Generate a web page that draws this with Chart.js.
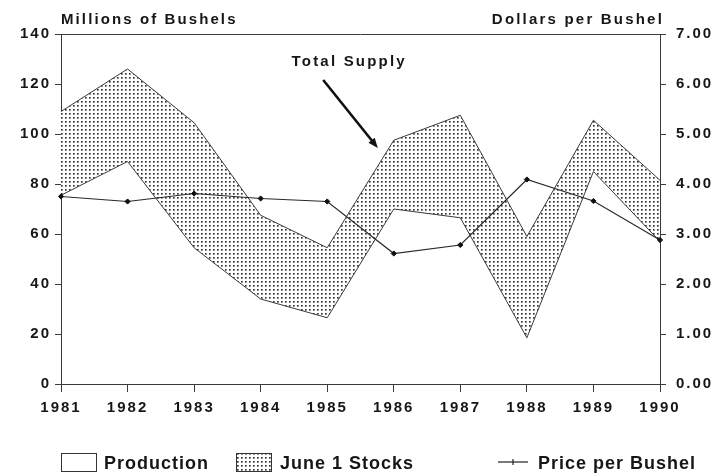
<!DOCTYPE html>
<html>
<head>
<meta charset="utf-8">
<script src="https://cdn.jsdelivr.net/npm/chart.js@4.4.1/dist/chart.umd.min.js"></script>
<style>
html,body{margin:0;padding:0;background:#fff;}
canvas{display:block;}
</style>
</head>
<body>
<canvas id="c" width="723" height="474"></canvas>
<script>
// ---- data ----
const years = ['1981','1982','1983','1984','1985','1986','1987','1988','1989','1990'];
const production = [75.5, 89, 54.5, 34, 26.5, 70, 66.5, 18.5, 85, 57];
const juneStocks = [33.5, 37, 50, 33.5, 28, 27.5, 41, 40.5, 20.5, 24.5];
const pricePerBushel = [3.75, 3.65, 3.81, 3.71, 3.65, 2.61, 2.78, 4.09, 3.66, 2.88];
const leftAxisTitle = 'Millions of Bushels';
const rightAxisTitle = 'Dollars per Bushel';
const annotationText = 'Total Supply';
const legendLabels = ['Production', 'June 1 Stocks', 'Price per Bushel'];

const FONT = '"Liberation Sans", Arial, sans-serif';
const INK = '#161616';
const LINE = '#3a3a3a';

function makeStipple() {
  const c = document.createElement('canvas');
  c.width = 4; c.height = 4;
  const g = c.getContext('2d');
  g.fillStyle = '#ffffff'; g.fillRect(0, 0, 4, 4);
  g.fillStyle = '#2e2e2e'; g.fillRect(1, 1, 1, 1);
  g.fillStyle = '#7a7a7a'; g.fillRect(2, 1, 1, 1); g.fillRect(1, 2, 1, 1);
  g.fillStyle = '#a0a0a0'; g.fillRect(2, 2, 1, 1);
  return g.createPattern(c, 'repeat');
}
const ctx0 = document.getElementById('c').getContext('2d');
const stipple = makeStipple();

const decor = {
  id: 'decor',
  beforeUpdate(chart) { chart.ctx.letterSpacing = '2px'; },
  beforeDraw(chart) {
    const c = chart.ctx;
    c.letterSpacing = '2px';
    c.save();
    c.fillStyle = '#fff';
    c.fillRect(0, 0, chart.width, chart.height);
    c.restore();
  },
  afterDraw(chart) {
    const c = chart.ctx;
    const a = chart.chartArea;
    const xs = chart.scales.x, ys = chart.scales.y;
    c.save();
    // top frame line
    c.strokeStyle = LINE; c.lineWidth = 1;
    c.beginPath(); c.moveTo(a.left, a.top + 0.5); c.lineTo(a.right, a.top + 0.5); c.stroke();

    // axis titles
    c.fillStyle = INK;
    c.font = 'bold 15px ' + FONT;
    c.letterSpacing = '2.1px';
    c.textBaseline = 'middle';
    c.textAlign = 'left';
    c.fillText(leftAxisTitle, a.left, 20);
    c.letterSpacing = '2.2px';
    c.textAlign = 'right';
    c.fillText(rightAxisTitle, a.right + 4, 20);

    // annotation
    c.letterSpacing = '2.2px';
    c.textAlign = 'center';
    c.fillText(annotationText, xs.getPixelForValue(4.33), ys.getPixelForValue(129.0));
    const x1 = xs.getPixelForValue(3.94), y1 = ys.getPixelForValue(121.6);
    const x2 = xs.getPixelForValue(4.76), y2 = ys.getPixelForValue(94.4);
    const ang = Math.atan2(y2 - y1, x2 - x1);
    c.strokeStyle = '#111'; c.lineWidth = 2.6;
    c.beginPath(); c.moveTo(x1, y1);
    c.lineTo(x2 - 7 * Math.cos(ang), y2 - 7 * Math.sin(ang)); c.stroke();
    c.fillStyle = '#111';
    c.beginPath();
    c.moveTo(x2, y2);
    c.lineTo(x2 - 10 * Math.cos(ang) + 4 * Math.sin(ang), y2 - 10 * Math.sin(ang) - 4 * Math.cos(ang));
    c.lineTo(x2 - 10 * Math.cos(ang) - 4 * Math.sin(ang), y2 - 10 * Math.sin(ang) + 4 * Math.cos(ang));
    c.closePath(); c.fill();

    // legend
    const ly = 463;
    c.lineWidth = 1; c.strokeStyle = '#333';
    c.fillStyle = '#fff';
    c.fillRect(61.5, 453.5, 35, 18); c.strokeRect(61.5, 453.5, 35, 18);
    c.fillStyle = stipple;
    c.fillRect(236.5, 453.5, 35, 18); c.strokeRect(236.5, 453.5, 35, 18);
    c.strokeStyle = '#222'; c.lineWidth = 1.2;
    c.beginPath(); c.moveTo(498, ly - 1); c.lineTo(528, ly - 1); c.stroke();
    c.beginPath(); c.moveTo(513, ly - 4); c.lineTo(513, ly + 2); c.stroke();
    c.fillStyle = INK;
    c.font = 'bold 18px ' + FONT;
    c.letterSpacing = '1px';
    c.textAlign = 'left'; c.textBaseline = 'middle';
    c.fillText(legendLabels[0], 104, ly + 1);
    c.fillText(legendLabels[1], 280, ly + 1);
    c.fillText(legendLabels[2], 538, ly + 1);
    c.restore();
  }
};

const tickFont = { family: FONT, size: 15, weight: 'bold' };

new Chart(ctx0, {
  type: 'line',
  data: {
    labels: years,
    datasets: [
      {
        label: legendLabels[0], data: production, yAxisID: 'y', stack: 'supply',
        borderColor: LINE, borderWidth: 1, pointRadius: 0, fill: false, tension: 0, order: 1
      },
      {
        label: legendLabels[1], data: juneStocks, yAxisID: 'y', stack: 'supply',
        borderColor: LINE, borderWidth: 1, pointRadius: 0, fill: '-1',
        backgroundColor: stipple, tension: 0, order: 1
      },
      {
        label: legendLabels[2], data: pricePerBushel, yAxisID: 'y1',
        borderColor: '#2a2a2a', borderWidth: 1.2, fill: false, tension: 0,
        pointStyle: 'rectRot', pointRadius: 2.6, pointBackgroundColor: '#111',
        pointBorderColor: '#111', pointBorderWidth: 1, order: 0
      }
    ]
  },
  options: {
    responsive: false,
    animation: false,
    devicePixelRatio: 1,
    layout: { padding: { top: 34, left: 0, right: 0, bottom: 0 } },
    plugins: { legend: { display: false }, tooltip: { enabled: false }, title: { display: false } },
    scales: {
      x: {
        offset: false,
        grid: { display: true, drawOnChartArea: false, drawTicks: true, tickLength: 8, color: LINE, tickColor: LINE },
        border: { display: true, color: LINE, width: 1 },
        ticks: { font: tickFont, color: INK, padding: 7, maxRotation: 0, autoSkip: false },
        afterFit(s) { s.height = 90; }
      },
      y: {
        position: 'left', stacked: true, min: 0, max: 140,
        grid: { display: true, drawOnChartArea: false, drawTicks: true, tickLength: 6, color: LINE, tickColor: LINE },
        border: { display: true, color: LINE, width: 1 },
        ticks: { stepSize: 20, font: tickFont, color: INK, padding: 4 },
        afterFit(s) { s.width = 61; }
      },
      y1: {
        position: 'right', min: 0, max: 7,
        grid: { display: true, drawOnChartArea: false, drawTicks: true, tickLength: 6, color: LINE, tickColor: LINE },
        border: { display: true, color: LINE, width: 1 },
        ticks: { stepSize: 1, font: tickFont, color: INK, padding: 10, callback: v => Number(v).toFixed(2) },
        afterFit(s) { s.width = 63; }
      }
    }
  },
  plugins: [decor]
});
</script>
</body>
</html>
